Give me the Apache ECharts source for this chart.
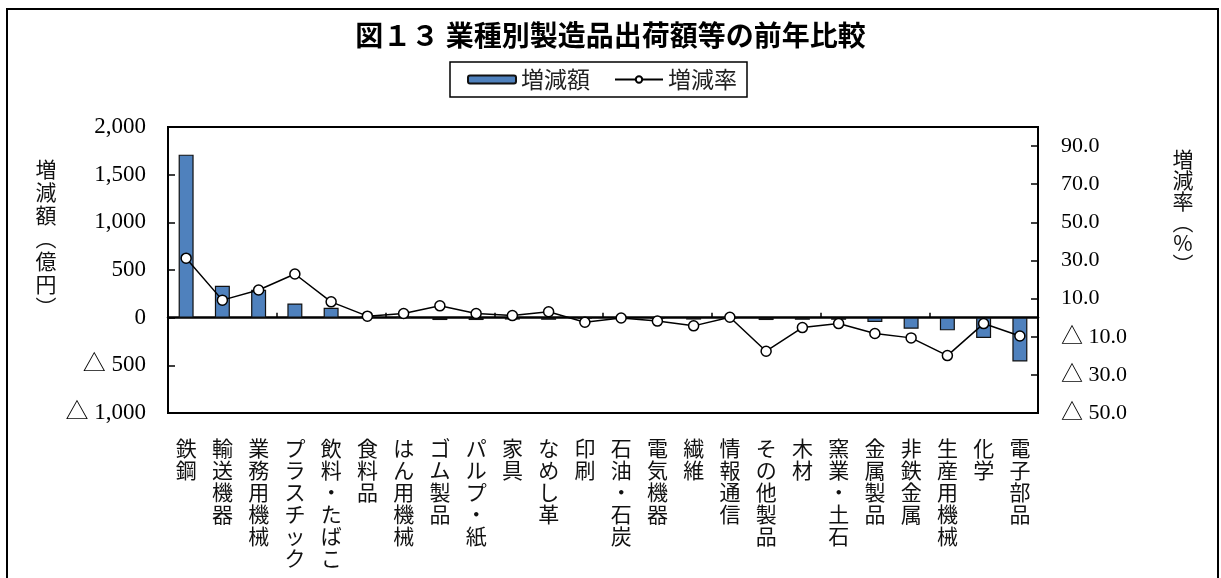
<!DOCTYPE html>
<html>
<head>
<meta charset="utf-8">
<script src="https://cdn.jsdelivr.net/npm/echarts@6/dist/echarts.min.js"></script>
<style>
  html, body { margin: 0; padding: 0; background: #fff; }
  #main { width: 1221px; height: 578px; }
</style>
</head>
<body>
<div id="main"></div>
<script>
  // 業種（横軸）
  let categories = ['鉄鋼','輸送機器','業務用機械','プラスチック','飲料・たばこ','食料品','はん用機械','ゴム製品',
    'パルプ・紙','家具','なめし革','印刷','石油・石炭','電気機器','繊維','情報通信','その他製品','木材',
    '窯業・土石','金属製品','非鉄金属','生産用機械','化学','電子部品'];
  // 増減額（億円）
  let amountData = [1710,334,292,149,103,10,8,-25,-25,-20,-22,-10,-5,-8,-20,-4,-25,-22,-22,-46,-116,-133,-214,-460];
  // 増減率（%）
  let rateData = [31.2,9.2,14.5,22.9,8.3,0.8,2.2,6.2,2.2,1.1,3.1,-2.4,-0.2,-1.8,-4.3,0.2,-17.6,-5.2,-3.1,-8.3,-10.6,-19.9,-3.1,-9.6];
  // 右軸の目盛
  let rateTicks = [-50,-30,-10,10,30,50,70,90];

  let numFont = "'Liberation Serif', 'Noto Sans CJK JP', serif";
  let jpFont = "'Noto Sans CJK JP', sans-serif";

  function fmtAmount(v) {
    if (v == 0) return '0';
    let s = Math.abs(v).toLocaleString('en-US');
    return v < 0 ? '△ ' + s : s;
  }
  function fmtRate(v) {
    let s = Math.abs(v).toFixed(1);
    return v < 0 ? '△ ' + s : s;
  }

  let myChart = echarts.init(document.getElementById('main'));
  let option = {
    backgroundColor: '#fff',
    animation: false,
    title: {
      text: '図１３ 業種別製造品出荷額等の前年比較',
      left: 'center',
      top: 16,
      textStyle: { fontFamily: jpFont, fontSize: 28, fontWeight: 'bold', color: '#000' }
    },
    legend: {
      left: 450,
      top: 62,
      padding: [6, 10, 6, 17],
      borderColor: '#000',
      borderWidth: 1.5,
      itemWidth: 48,
      itemHeight: 8,
      itemGap: 24,
      textStyle: { fontFamily: jpFont, fontSize: 23, color: '#222' },
      data: ['増減額', '増減率']
    },
    grid: {
      left: 168,
      right: 183,
      top: 127,
      bottom: 165,
      show: true,
      borderColor: '#000',
      borderWidth: 2
    },
    xAxis: [
      {
        type: 'category',
        data: categories,
        position: 'bottom',
        axisLine: { onZero: false, lineStyle: { color: '#000', width: 2 } },
        axisTick: { show: false },
        axisLabel: {
          interval: 0,
          margin: 24,
          color: '#111',
          fontFamily: jpFont,
          fontSize: 21,
          lineHeight: 22,
          verticalAlign: 'top',
          formatter: function (value) {
            return value.split('').join('\n');
          }
        }
      },
      {
        // 0 の位置の軸線と目盛
        type: 'category',
        data: categories,
        position: 'top',
        axisLine: { onZero: true, onZeroAxisIndex: 0, lineStyle: { color: '#000', width: 2.5 } },
        axisTick: { show: true, inside: false, length: 5, lineStyle: { color: '#000', width: 1.5 } },
        axisLabel: { show: false }
      }
    ],
    yAxis: [
      {
        type: 'value',
        position: 'left',
        min: -1000,
        max: 2000,
        interval: 500,
        axisLine: { show: true, lineStyle: { color: '#000', width: 2 } },
        axisTick: { show: true, inside: true, length: 7, lineStyle: { color: '#000', width: 1.5 } },
        axisLabel: {
          margin: 22,
          color: '#000',
          fontFamily: numFont,
          fontSize: 23,
          formatter: fmtAmount
        },
        splitLine: { show: false }
      },
      {
        type: 'value',
        position: 'right',
        min: -50,
        max: 100,
        interval: 10,
        axisLine: { show: true, lineStyle: { color: '#000', width: 2 } },
        axisTick: { show: true, inside: true, length: 7, customValues: rateTicks, lineStyle: { color: '#000', width: 1.5 } },
        axisLabel: {
          margin: 23,
          color: '#000',
          fontFamily: numFont,
          fontSize: 22,
          customValues: rateTicks,
          formatter: fmtRate
        },
        splitLine: { show: false }
      }
    ],
    graphic: [
      {
        // 外枠
        type: 'rect',
        silent: true,
        shape: { x: 7, y: 9, width: 1211, height: 620 },
        style: { fill: 'none', stroke: '#000', lineWidth: 2 }
      },
      {
        type: 'text',
        x: 46,
        y: 158,
        style: {
          text: '増\n減\n額\n︵\n億\n円\n︶',
          fill: '#111',
          font: "21px 'Noto Sans CJK JP'",
          lineHeight: 23,
          textAlign: 'center',
          textVerticalAlign: 'top'
        }
      },
      {
        type: 'text',
        x: 1183,
        y: 149,
        style: {
          text: '増\n減\n率\n︵\n%\n︶',
          fill: '#111',
          font: "21px 'Noto Sans CJK JP'",
          lineHeight: 21,
          textAlign: 'center',
          textVerticalAlign: 'top'
        }
      }
    ],
    series: [
      {
        name: '増減額',
        type: 'bar',
        xAxisIndex: 0,
        yAxisIndex: 0,
        barWidth: 15,
        itemStyle: { color: '#4F81BD', borderColor: '#111', borderWidth: 1.2 },
        data: amountData
      },
      {
        name: '増減率',
        type: 'line',
        xAxisIndex: 0,
        yAxisIndex: 1,
        symbol: 'circle',
        symbolSize: 10,
        lineStyle: { color: '#000', width: 1.5 },
        itemStyle: { color: '#fff', borderColor: '#000', borderWidth: 1.5 },
        data: rateData
      }
    ]
  };

  myChart.setOption(option);
</script>
</body>
</html>
